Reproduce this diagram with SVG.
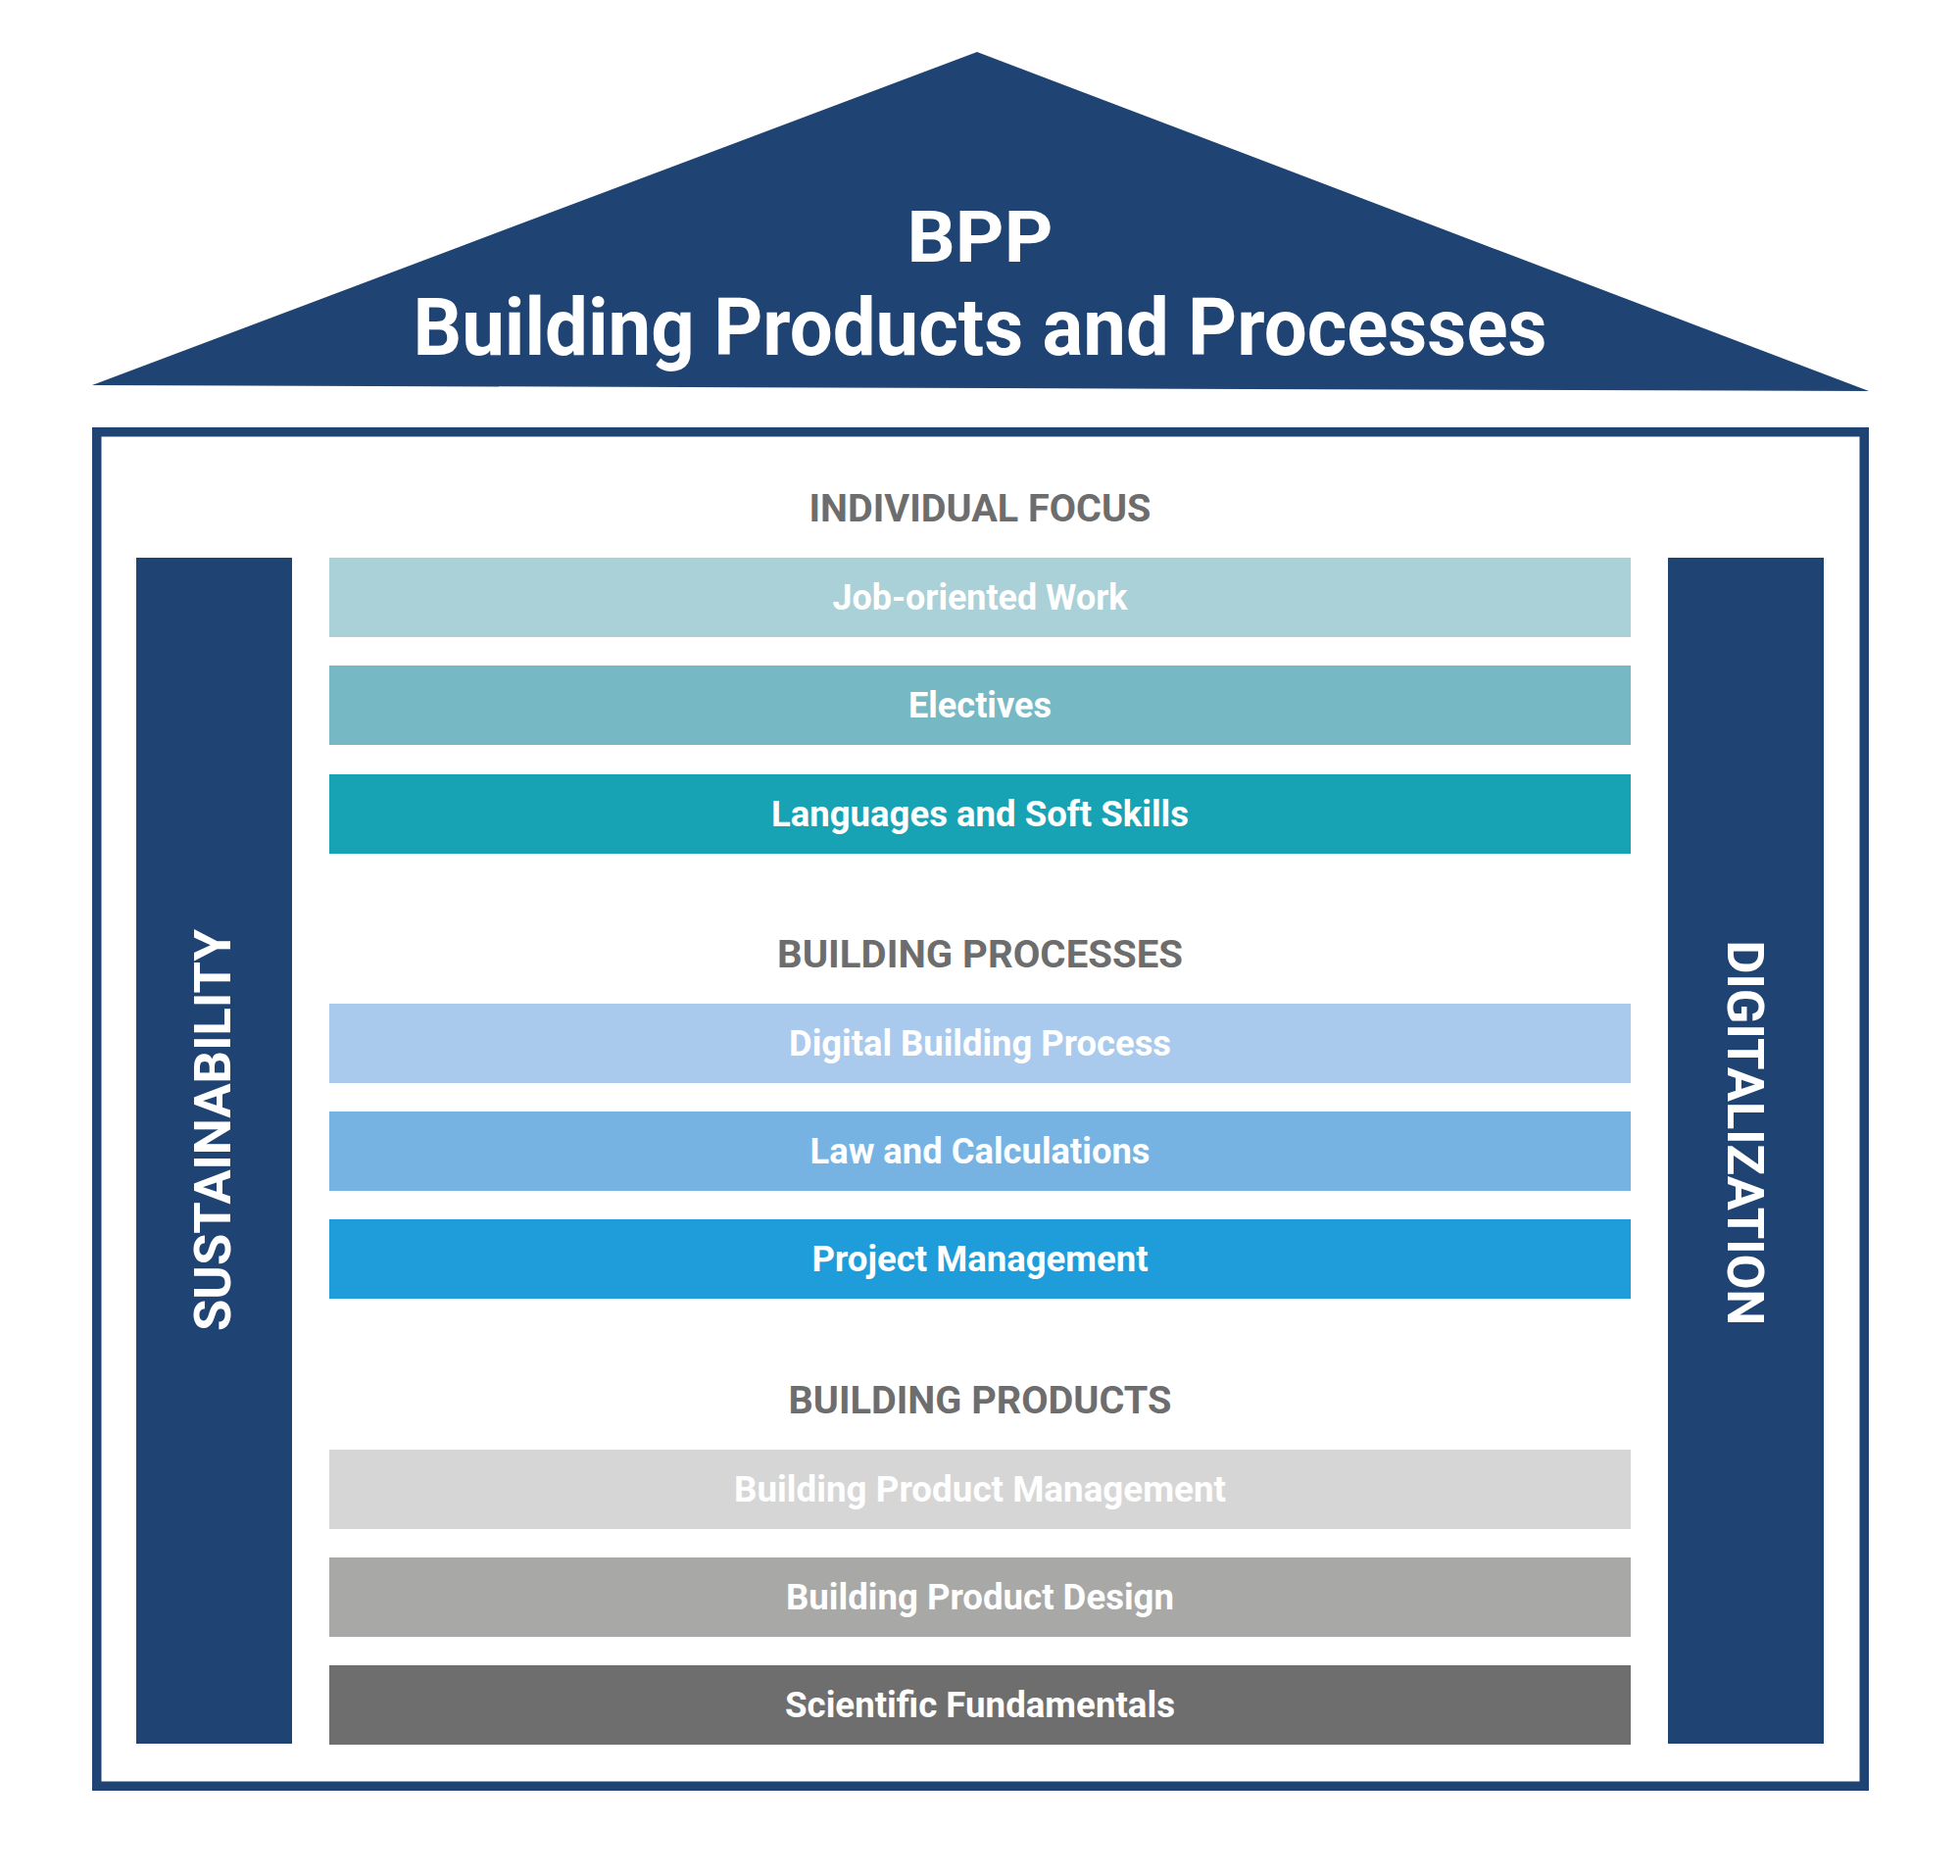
<svg xmlns="http://www.w3.org/2000/svg" width="2000" height="1914" viewBox="0 0 2000 1914">
<style>
.navy{fill:#1F4373}
.bar text{font-family:Roboto,"Liberation Sans",sans-serif;font-weight:700;font-size:36px;fill:#fff;text-anchor:middle}
.head{font-family:Roboto,"Liberation Sans",sans-serif;font-weight:700;font-size:38px;fill:#6D6D6D;text-anchor:middle}
.title{font-family:Roboto,"Liberation Sans",sans-serif;font-weight:700;fill:#fff;text-anchor:middle}
.pillar text{font-family:Roboto,"Liberation Sans",sans-serif;font-weight:700;font-size:52px;fill:#fff;text-anchor:middle}
</style>
<rect width="2000" height="1914" fill="#fff"/>
<g id="roof">
<polygon class="navy" points="94,393 997,53 1907,399"/>
<text class="title" x="1000" y="267" font-size="73" textLength="149" lengthAdjust="spacingAndGlyphs">BPP</text>
<text class="title" x="1000" y="362" font-size="81" textLength="1157" lengthAdjust="spacingAndGlyphs">Building Products and Processes</text>
</g>
<g id="frame">
<rect x="98.75" y="440.75" width="1803.5" height="1381.5" fill="none" stroke="#1F4373" stroke-width="9.5"/>
</g>
<g id="pillar-sustainability" class="pillar">
<rect class="navy" x="139" y="569" width="159" height="1210"/>
<text transform="translate(235,1153) rotate(-90)" x="0" y="0" textLength="410" lengthAdjust="spacingAndGlyphs">SUSTAINABILITY</text>
</g>
<g id="pillar-digitalization" class="pillar">
<rect class="navy" x="1702" y="569" width="159" height="1210"/>
<text transform="translate(1763,1156) rotate(90)" x="0" y="0" textLength="393" lengthAdjust="spacingAndGlyphs">DIGITALIZATION</text>
</g>
<g id="heading-individual"><text class="head" x="1000" y="532" textLength="349" lengthAdjust="spacingAndGlyphs">INDIVIDUAL FOCUS</text></g>
<g id="heading-processes"><text class="head" x="1000" y="987" textLength="414" lengthAdjust="spacingAndGlyphs">BUILDING PROCESSES</text></g>
<g id="heading-products"><text class="head" x="1000" y="1442" textLength="391" lengthAdjust="spacingAndGlyphs">BUILDING PRODUCTS</text></g>
<g id="bar-job" class="bar"><rect x="336" y="569" width="1328" height="81" fill="#AAD1D8"/><text x="1000" y="622" textLength="301" lengthAdjust="spacingAndGlyphs">Job-oriented Work</text></g>
<g id="bar-electives" class="bar"><rect x="336" y="679" width="1328" height="81" fill="#76B8C4"/><text x="1000" y="732" textLength="146" lengthAdjust="spacingAndGlyphs">Electives</text></g>
<g id="bar-languages" class="bar"><rect x="336" y="790" width="1328" height="81" fill="#18A3B4"/><text x="1000" y="843" textLength="426" lengthAdjust="spacingAndGlyphs">Languages and Soft Skills</text></g>
<g id="bar-digital" class="bar"><rect x="336" y="1024" width="1328" height="81" fill="#A9CAED"/><text x="1000" y="1077" textLength="390" lengthAdjust="spacingAndGlyphs">Digital Building Process</text></g>
<g id="bar-law" class="bar"><rect x="336" y="1134" width="1328" height="81" fill="#76B3E2"/><text x="1000" y="1187" textLength="347" lengthAdjust="spacingAndGlyphs">Law and Calculations</text></g>
<g id="bar-pm" class="bar"><rect x="336" y="1244" width="1328" height="81" fill="#1E9DDA"/><text x="1000" y="1297" textLength="343" lengthAdjust="spacingAndGlyphs">Project Management</text></g>
<g id="bar-bpm" class="bar"><rect x="336" y="1479" width="1328" height="81" fill="#D6D6D6"/><text x="1000" y="1532" textLength="502" lengthAdjust="spacingAndGlyphs">Building Product Management</text></g>
<g id="bar-bpd" class="bar"><rect x="336" y="1589" width="1328" height="81" fill="#A8A8A7"/><text x="1000" y="1642" textLength="396" lengthAdjust="spacingAndGlyphs">Building Product Design</text></g>
<g id="bar-sf" class="bar"><rect x="336" y="1699" width="1328" height="81" fill="#6E6E6E"/><text x="1000" y="1752" textLength="398" lengthAdjust="spacingAndGlyphs">Scientific Fundamentals</text></g>
<g id="connectors"/>
</svg>
